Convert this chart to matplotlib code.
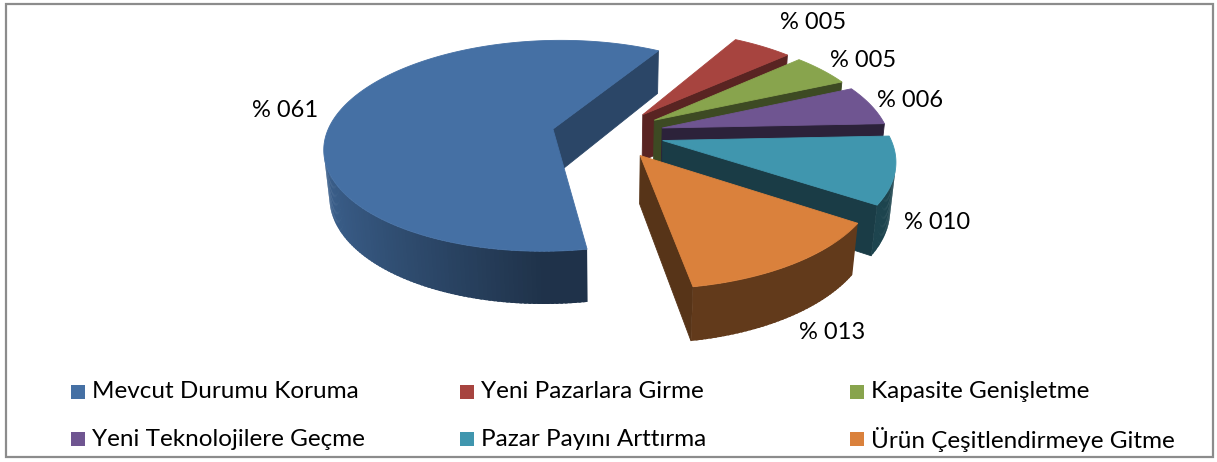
import numpy as np
import matplotlib
matplotlib.use("Agg")
import matplotlib.pyplot as plt
from matplotlib.patches import Polygon, Rectangle
from matplotlib.colors import to_rgb

categories = ["Mevcut Durumu Koruma", "Yeni Pazarlara Girme", "Kapasite Genişletme",
              "Yeni Teknolojilere Geçme", "Pazar Payını Arttırma", "Ürün Çeşitlendirmeye Gitme"]
values = [61, 5, 5, 6, 10, 13]
labels = ["% 061", "% 005", "% 005", "% 006", "% 010", "% 013"]
colors = ["#4570A4", "#A7443F", "#88A44D", "#6F5591", "#4096AE", "#DA813C"]

# ---- layout (pixels / 3D view) ----
W, H = 1217, 462
CX, CY, S = 609.4, 133.7, 226.3
ALPHA = 0.4789
DIST = 5.548
DEPTH = 0.2394
EXPLODE = [0.2552, 0.2416, 0.2416, 0.2416, 0.2416, 0.2416]
START_DEG = 279.64
label_offsets = [(-54, -1), (51, -24), (41, -10), (39, -5), (42, 52), (39, 69)]
FONT = "Lato"
FS_LABEL = 17
FS_LEGEND = 17.5

fig = plt.figure(figsize=(W / 100, H / 100), dpi=100)
ax = fig.add_axes([0, 0, 1, 1])
ax.set_xlim(0, W)
ax.set_ylim(H, 0)
ax.axis("off")

ca, sa = np.cos(ALPHA), np.sin(ALPHA)
cam = np.array([0.0, -DIST * ca, DIST * sa])


def proj(x, y, z):
    x = np.asarray(x, float); y = np.asarray(y, float); z = np.asarray(z, float)
    depth = DIST + y * ca - z * sa
    f = DIST / depth
    return CX + S * x * f, CY - S * (y * sa + z * ca) * f


def shade(c, k):
    return tuple(np.clip(np.array(to_rgb(c)) * k, 0, 1))


def poly(xs3, ys3, zs3, color, zo, lw=0.6):
    px, py = proj(xs3, ys3, zs3)
    ax.add_patch(Polygon(np.column_stack([px, py]), closed=True, facecolor=color,
                         edgecolor=color if lw > 0 else "none", linewidth=lw, zorder=zo))


total = float(sum(values))
slices = []
hi = START_DEG
for i, v in enumerate(values):
    span = v / total * 360.0
    lo = hi - span
    mid = np.radians((hi + lo) / 2)
    half = np.radians(span / 2)
    cdist = 2 * np.sin(half) / (3 * half)
    e = EXPLODE[i]
    slices.append(dict(i=i, lo=np.radians(lo), hi=np.radians(hi), mid=mid,
                       ox=e * np.cos(mid), oy=e * np.sin(mid),
                       key=(e + cdist) * np.sin(mid)))
    hi = lo

order = sorted(slices, key=lambda s: -s["key"])
zo = 1
for s in order:
    c = colors[s["i"]]
    ox, oy, lo, hi = s["ox"], s["oy"], s["lo"], s["hi"]
    # radial cut faces
    for a, sg in ((lo, -1), (hi, 1)):
        na = a + sg * np.pi / 2
        n = np.array([np.cos(na), np.sin(na), 0.0])
        mp = np.array([ox + 0.5 * np.cos(a), oy + 0.5 * np.sin(a), -DEPTH / 2])
        if n @ (cam - mp) > 0:
            k = 0.4 + 0.3 * max(0.0, np.cos(na)) ** 2
            poly([ox, ox + np.cos(a), ox + np.cos(a), ox],
                 [oy, oy + np.sin(a), oy + np.sin(a), oy],
                 [0, 0, -DEPTH, -DEPTH], shade(c, k), zo)
            zo += 1
    # outer wall, drawn as overlapping thin bands for a smooth gradient
    nseg = max(4, int(np.degrees(hi - lo) / 1.0))
    edges = np.linspace(lo, hi, nseg + 1)
    step = edges[1] - edges[0]
    for j, (a0, a1) in enumerate(zip(edges[:-1], edges[1:])):
        am = (a0 + a1) / 2
        n = np.array([np.cos(am), np.sin(am), 0.0])
        mp = np.array([ox + np.cos(am), oy + np.sin(am), -DEPTH / 2])
        if n @ (cam - mp) > 0:
            k = 0.45 + 0.42 * max(0.0, -np.cos(am))
            b1 = min(a1 + 0.6 * step, hi)
            aa = np.linspace(a0, b1, 4)
            xs = np.concatenate([ox + np.cos(aa), ox + np.cos(aa[::-1])])
            ys = np.concatenate([oy + np.sin(aa), oy + np.sin(aa[::-1])])
            zs = np.concatenate([np.zeros(4), -DEPTH * np.ones(4)])
            poly(xs, ys, zs, shade(c, k), zo + j * 0.0001, lw=0)
    zo += 1
    # top face
    aa = np.linspace(lo, hi, 200)
    poly(np.concatenate([[ox], ox + np.cos(aa)]), np.concatenate([[oy], oy + np.sin(aa)]),
         np.zeros(201), c, zo)
    zo += 1

# data labels
for s in slices:
    i = s["i"]
    px, py = proj(s["ox"] + np.cos(s["mid"]), s["oy"] + np.sin(s["mid"]), 0.0)
    dx, dy = label_offsets[i]
    ax.text(float(px) + dx, float(py) + dy, labels[i], ha="center", va="center",
            fontsize=FS_LABEL, family=FONT, color="black", zorder=100)

# legend
col_x = [71, 460, 850]
row_y = [392, 439]
for i, cat in enumerate(categories):
    x = col_x[i % 3]
    y = row_y[i // 3]
    ax.add_patch(Rectangle((x, y - 7), 14, 14, facecolor=colors[i], edgecolor="none", zorder=100))
    ax.text(x + 21, y, cat, ha="left", va="center", fontsize=FS_LEGEND, family=FONT,
            color="black", zorder=100)

# chart border
ax.add_patch(Rectangle((6, 4), 1207, 453, facecolor="none", edgecolor="#8c8c8c",
                       linewidth=1.6, zorder=200))

fig.savefig("out.png", dpi=100)
